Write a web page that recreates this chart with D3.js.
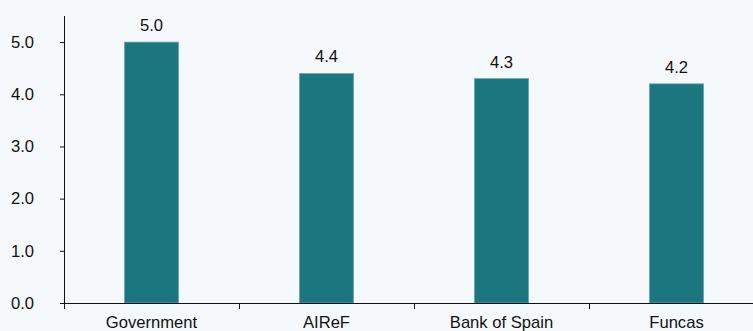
<!DOCTYPE html>
<html>
<head>
<meta charset="utf-8">
<script src="https://cdn.jsdelivr.net/npm/d3@7"></script>
<style>
	html, body { margin: 0; padding: 0; background: #f5f9fb; }
	svg { display: block; font-family: "Liberation Sans", Arial, sans-serif; }
</style>
</head>
<body>
<script>
// forecasts, one per institution
let categories = ["Government", "AIReF", "Bank of Spain", "Funcas"];
let values = [5.0, 4.4, 4.3, 4.2];
let yTicks = [0, 1, 2, 3, 4, 5];

let width = 753;
let height = 331;
let margin = {
	top: 16,
	right: -11,
	bottom: 28,
	left: 64
};
let fontSize = "16.6px";

let svg = d3.select("body").append("svg")
	.attr("width", width)
	.attr("height", height);

let x = d3.scaleBand()
	.domain(categories)
	.range([margin.left, width - margin.right])
	.paddingInner(0.69)
	.paddingOuter(0.345);

let y = d3.scaleLinear()
	.domain([0, 5.5])
	.range([height - margin.bottom, margin.top]);

// bars
svg.selectAll(".bar")
	.data(values)
	.enter()
	.append("rect")
	.attr("class", "bar")
	.attr("x", (d, i) => x(categories[i]))
	.attr("y", d => y(d))
	.attr("width", x.bandwidth())
	.attr("height", d => y(0) - y(d))
	.attr("fill", "#1b7680")
	.attr("stroke", "#6fa9b0")
	.attr("stroke-width", 0.8);

// value labels
svg.selectAll(".val")
	.data(values)
	.enter()
	.append("text")
	.attr("class", "val")
	.attr("x", (d, i) => x(categories[i]) + x.bandwidth() / 2)
	.attr("y", d => y(d) - 11)
	.attr("text-anchor", "middle")
	.attr("font-size", fontSize)
	.attr("fill", "#111")
	.text(d => d.toFixed(1));

// y axis
let yAxis = svg.append("g")
	.attr("transform", `translate(${margin.left},0)`)
	.call(d3.axisLeft(y).tickValues(yTicks).tickFormat(d3.format(".1f")).tickSize(4).tickSizeOuter(0));
yAxis.select(".domain").attr("stroke", "#111").attr("d", `M0.5,${margin.top}V${y(0)}`);
yAxis.selectAll(".tick line").attr("stroke", "#111");
yAxis.selectAll(".tick text")
	.attr("x", -30)
	.attr("font-size", fontSize)
	.attr("font-family", "Liberation Sans, Arial, sans-serif")
	.attr("fill", "#111");

// x axis with ticks on category boundaries
let bounds = d3.range(categories.length + 1).map(i => margin.left + i * x.step());
let xAxis = svg.append("g")
	.attr("transform", `translate(0,${y(0)})`);
xAxis.append("line")
	.attr("x1", margin.left)
	.attr("x2", width)
	.attr("y1", 0.5)
	.attr("y2", 0.5)
	.attr("stroke", "#111");
xAxis.selectAll(".xt")
	.data(bounds)
	.enter()
	.append("line")
	.attr("class", "xt")
	.attr("x1", d => Math.round(d) + 0.5)
	.attr("x2", d => Math.round(d) + 0.5)
	.attr("y1", 0)
	.attr("y2", 6)
	.attr("stroke", "#111");
xAxis.selectAll(".xl")
	.data(categories)
	.enter()
	.append("text")
	.attr("class", "xl")
	.attr("x", d => x(d) + x.bandwidth() / 2)
	.attr("y", 24.5)
	.attr("text-anchor", "middle")
	.attr("font-size", fontSize)
	.attr("fill", "#111")
	.text(d => d);
</script>
</body>
</html>
